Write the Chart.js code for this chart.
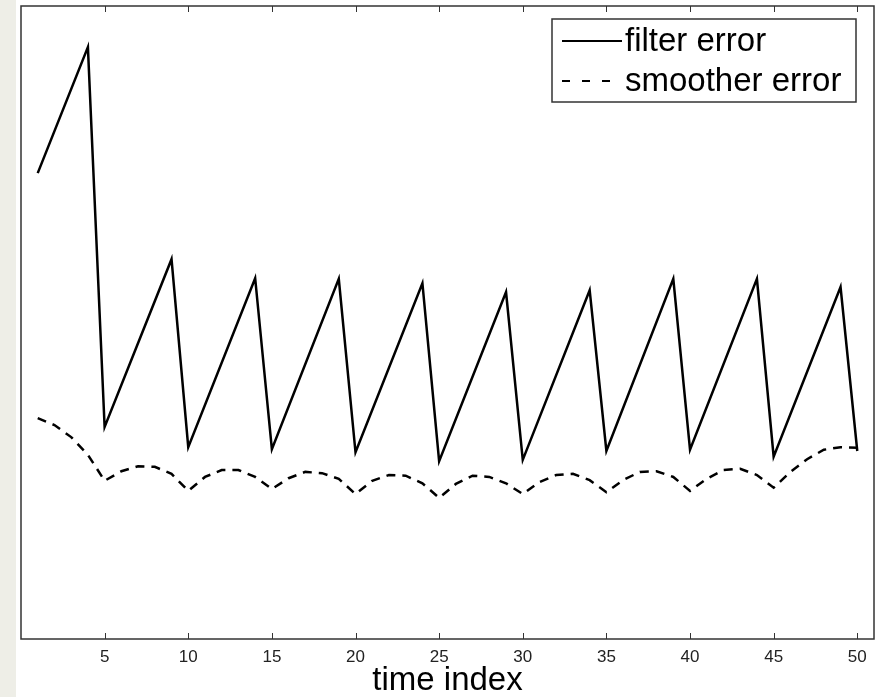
<!DOCTYPE html>
<html>
<head>
<meta charset="utf-8">
<script src="https://cdn.jsdelivr.net/npm/chart.js@4.4.1/dist/chart.umd.min.js"></script>
<style>
  html, body { margin: 0; padding: 0; background: #eeeee7; }
  #wrap { position: absolute; left: 16px; top: 0; width: 859px; height: 697px; background: #fff; }
</style>
</head>
<body>
<div id="wrap"><canvas id="myChart"></canvas></div>
<script>
const ctx = document.getElementById('myChart');

// x ticks shown on the axis
const xTicks = [5, 10, 15, 20, 25, 30, 35, 40, 45, 50];

// filter error: corner points of the saw-tooth
const filterIndex = [1, 4, 5, 9, 10, 14, 15, 19, 20, 24, 25, 29, 30, 34, 35, 39, 40, 44, 45, 49, 50];
const filterError = [7.36, 9.35, 3.35, 6.00, 3.03, 5.70, 3.00, 5.69, 2.95, 5.62, 2.81,
                     5.48, 2.83, 5.51, 2.97, 5.69, 2.99, 5.69, 2.88, 5.56, 2.97];

// smoother error at every time index 1..50
const smootherIndex = [1, 2, 3, 4, 5, 6, 7, 8, 9, 10, 11, 12, 13, 14, 15, 16, 17, 18, 19, 20,
                       21, 22, 23, 24, 25, 26, 27, 28, 29, 30, 31, 32, 33, 34, 35, 36, 37, 38, 39, 40,
                       41, 42, 43, 44, 45, 46, 47, 48, 49, 50];
const smootherError = [3.49, 3.38, 3.19, 2.91, 2.50, 2.65, 2.73, 2.72, 2.61, 2.34,
                       2.56, 2.67, 2.67, 2.56, 2.37, 2.54, 2.64, 2.62, 2.53, 2.29,
                       2.50, 2.59, 2.58, 2.46, 2.23, 2.45, 2.58, 2.56, 2.46, 2.29,
                       2.48, 2.59, 2.61, 2.51, 2.32, 2.51, 2.64, 2.65, 2.56, 2.34,
                       2.53, 2.67, 2.69, 2.59, 2.39, 2.64, 2.84, 2.99, 3.03, 3.02];

const FONT = '"Liberation Sans", Arial, Helvetica, sans-serif';

// box round the plot + inward tick marks top and bottom, matlab style
const boxPlugin = {
  id: 'box',
  afterDatasetsDraw(chart) {
    const c = chart.ctx;
    const a = chart.chartArea;
    const xs = chart.scales.x;
    c.save();
    c.strokeStyle = '#333';
    c.lineWidth = 1.5;
    c.strokeRect(a.left, a.top, a.right - a.left, a.bottom - a.top);
    c.beginPath();
    xs.ticks.forEach(t => {
      const px = Math.round(xs.getPixelForValue(t.value)) + 0.5;
      c.moveTo(px, a.bottom); c.lineTo(px, a.bottom - 6);
      c.moveTo(px, a.top); c.lineTo(px, a.top + 6);
    });
    c.lineWidth = 1;
    c.stroke();
    c.restore();
  }
};

const legendPlugin = {
  id: 'mLegend',
  afterDraw(chart) {
    const c = chart.ctx;
    const a = chart.chartArea;
    const right = a.right - 18, top = a.top + 13;
    const w = 304, h = 83;
    const left = right - w;
    c.save();
    c.fillStyle = '#fff';
    c.fillRect(left, top, w, h);
    c.strokeStyle = '#333';
    c.lineWidth = 1.5;
    c.strokeRect(left, top, w, h);
    const rows = [top + 22, top + 62];
    chart.data.datasets.forEach((ds, i) => {
      const y = rows[i];
      const dashed = ds.borderDash && ds.borderDash.length;
      c.beginPath();
      c.strokeStyle = '#000';
      c.lineWidth = 2;
      c.setLineDash(dashed ? [8, 12] : []);
      c.moveTo(left + 10, y);
      c.lineTo(left + (dashed ? 60 : 70), y);
      c.stroke();
      c.setLineDash([]);
      c.fillStyle = '#000';
      c.font = '33px ' + FONT;
      c.textBaseline = 'middle';
      c.fillText(ds.label, left + 73, y + 1);
    });
    c.restore();
  }
};

new Chart(ctx, {
  type: 'line',
  data: {
    datasets: [{
      label: 'filter error',
      data: filterIndex.map((x, i) => ({ x: x, y: filterError[i] })),
      borderColor: '#000',
      borderWidth: 2.5,
      pointRadius: 0,
      tension: 0
    }, {
      label: 'smoother error',
      data: smootherIndex.map((x, i) => ({ x: x, y: smootherError[i] })),
      borderColor: '#000',
      borderWidth: 2.5,
      borderDash: [9, 7],
      pointRadius: 0,
      tension: 0
    }]
  },
  options: {
    responsive: true,
    maintainAspectRatio: false,
    animation: false,
    layout: { padding: { left: 5, right: 1, top: 6, bottom: 0 } },
    plugins: {
      legend: { display: false },
      tooltip: { enabled: false }
    },
    scales: {
      x: {
        type: 'linear',
        min: 0,
        max: 51,
        afterBuildTicks: (scale) => { scale.ticks = xTicks.map(v => ({ value: v })); },
        afterFit: (scale) => { scale.height = 58; },
        grid: { display: false, drawTicks: false },
        border: { display: false },
        ticks: {
          padding: 8,
          maxRotation: 0,
          autoSkip: false,
          color: '#222',
          font: { family: FONT, size: 17 }
        },
        title: {
          display: true,
          text: 'time index',
          color: '#000',
          padding: 0,
          font: { family: FONT, size: 33, lineHeight: 1.0 }
        }
      },
      y: {
        display: false,
        min: 0,
        max: 10
      }
    }
  },
  plugins: [boxPlugin, legendPlugin]
});
</script>
</body>
</html>
